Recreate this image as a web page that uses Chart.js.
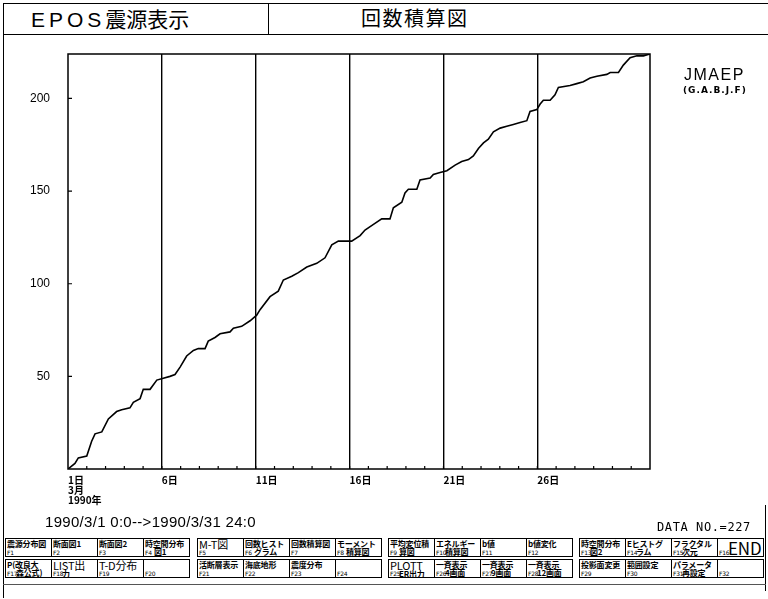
<!DOCTYPE html>
<html lang="ja">
<head>
  <meta charset="UTF-8" />
  <title>EPOS震源表示 - 回数積算図</title>
  <script src="https://cdn.jsdelivr.net/npm/chart.js"></script>
  <style>
    body {
      margin: 0;
      width: 768px;
      height: 599px;
      background: #fff;
      color: #000;
      position: relative;
      overflow: hidden;
      font-family: "Noto Sans CJK JP", "Liberation Sans", sans-serif;
    }
    .abs { position: absolute; }
    .titlebar {
      left: 3px; top: 3px; width: 765px; height: 30px;
      border-top: 1.5px solid #000;
      border-bottom: 1.5px solid #000;
      border-left: 1.5px solid #000;
    }
    .divider { left: 268px; top: 3px; width: 0; height: 31px; border-left: 1.5px solid #000; }
    .title1 { left: 31px; top: 4px; font-size: 21px; line-height: 28px; }
    .title1 .lat { letter-spacing: 4px; font-family: "Liberation Sans", sans-serif; }
    .title2 { left: 361px; top: 4px; font-size: 20px; line-height: 28px; letter-spacing: 1.5px; }
    .frameL { left: 3px; top: 34px; height: 564px; border-left: 1.5px solid #000; }
    .frameR { left: 765px; top: 505px; height: 86px; border-left: 1.5px solid #000; }
    .frameB { left: 3px; top: 584px; width: 763px; border-top: 1px solid #555; }
    #chartBox { left: 0; top: 36px; }
    .jmaep { left: 684px; top: 66px; font-family: "Liberation Sans", sans-serif; font-size: 16px; letter-spacing: 1.5px; line-height: 18px; }
    .gabjf { left: 683px; top: 85px; font-family: "DejaVu Sans", sans-serif; font-size: 9px; font-weight: bold; letter-spacing: 1px; }
    .range { left: 45px; top: 513px; font-family: "Liberation Sans", sans-serif; font-size: 15px; letter-spacing: 0.3px; }
    .datano { left: 657px; top: 520px; font-family: "DejaVu Sans Mono", monospace; font-size: 12px; letter-spacing: 0.6px; }
    .btn {
      position: absolute;
      height: 19px;
      border: 1.5px solid #000;
      box-sizing: border-box;
      font-size: 8px;
      font-weight: bold;
      line-height: 8.5px;
      padding: 0.5px 0 0 1px;
      white-space: nowrap;
      overflow: hidden;
      letter-spacing: -0.2px;
    }
    .btn .l2 { display: block; margin-left: 9px; font-size: 8px; font-weight: bold; line-height: 8.5px; }
    .btn .fn { position: absolute; left: 1px; bottom: 0; font-size: 6px; line-height: 6px; font-family: "DejaVu Sans", sans-serif; font-weight: normal; }
    .btn.big { font-size: 11px; line-height: 9.5px; font-weight: normal; }
    .btn.end { font-size: 17px; line-height: 16px; font-weight: normal; padding-left: 10px; }
  </style>
</head>
<body>
  <div class="abs titlebar"></div>
  <div class="abs divider"></div>
  <div class="abs title1"><span class="lat">EPOS</span>震源表示</div>
  <div class="abs title2">回数積算図</div>
  <div class="abs frameL"></div>
  <div class="abs frameR"></div>
  <div class="abs frameB"></div>

  <div id="chartBox" class="abs"><canvas id="countChart" width="768" height="478"></canvas></div>

  <div class="abs jmaep">JMAEP</div>
  <div class="abs gabjf">(G.A.B.J.F)</div>
  <div class="abs range">1990/3/1 0:0-->1990/3/31 24:0</div>
  <div class="abs datano">DATA NO.=227</div>

  <div id="buttons"></div>

  <script>
    // cumulative number of events (day of March 1990, count)
    const eventDays = [1.00, 1.37, 1.55, 2.00, 2.26, 2.44, 2.80, 3.15, 3.59, 3.86,
      4.30, 4.48, 4.84, 5.01, 5.37, 5.73, 6.08, 6.43, 6.70, 6.97,
      7.32, 7.68, 7.94, 8.30, 8.47, 8.83, 9.10, 9.63, 9.81, 10.25,
      10.70, 11.05, 11.23, 11.76, 12.20, 12.47, 12.92, 13.27, 13.72, 14.25,
      14.69, 15.05, 15.40, 15.93, 16.11, 16.56, 16.82, 17.27, 17.71, 18.15,
      18.33, 18.78, 18.95, 19.13, 19.58, 19.75, 20.29, 20.46, 20.82, 21.18,
      21.62, 21.97, 22.33, 22.59, 22.86, 23.13, 23.39, 23.66, 24.02, 24.37,
      24.72, 25.08, 25.44, 25.61, 25.97, 26.15, 26.32, 26.68, 26.94, 27.12,
      27.74, 28.10, 28.45, 28.81, 29.17, 29.70, 29.88, 30.32, 30.58, 30.94,
      31.30, 31.65, 32.00];
    const eventCounts = [0, 3, 6, 7, 15, 19, 20, 27, 31, 32,
      33, 36, 38, 43, 43, 48, 49, 50, 51, 55,
      61, 64, 65, 65, 69, 71, 73, 74, 76, 77,
      80, 83, 86, 93, 96, 102, 104, 106, 109, 111,
      114, 121, 123, 123, 123, 126, 129, 132, 135, 135,
      141, 144, 149, 151, 151, 156, 157, 159, 160, 161,
      164, 166, 167, 169, 173, 176, 178, 182, 184, 185,
      186, 187, 188, 193, 194, 197, 199, 199, 202, 206,
      207, 208, 209, 211, 212, 213, 214, 214, 218, 222,
      223, 223, 224];

    const dayMin = 1, dayMax = 32;
    const countMax = 224;
    const majorDays = [6, 11, 16, 21, 26];
    const dayLabels = { 1: ['1日', '3月', '1990年'], 6: '6日', 11: '11日', 16: '16日', 21: '21日', 26: '26日' };
    const countTicks = [50, 100, 150, 200];

    // function key panel
    const keyRow1 = [
      ['震源分布図', ''], ['断面図1', ''], ['断面図2', ''], ['時空間分布', '図1'],
      ['M-T図', '', 'big'], ['回数ヒスト', 'グラム'], ['回数積算図', ''], ['モーメント', '積算図'],
      ['平均変位積', '算図'], ['エネルギー', '積算図'], ['b値', ''], ['b値変化', ''],
      ['時空間分布', '図2'], ['Eヒストグ', 'ラム'], ['フラクタル', '次元'], ['END', '', 'end']
    ];
    const keyRow2 = [
      ['P(改良大', '森公式)'], ['LIST出', '力', 'big'], ['T-D分布', '', 'big'], ['', ''],
      ['活断層表示', ''], ['海底地形', ''], ['震度分布', ''], ['', ''],
      ['PLOTT', 'ER出力', 'big'], ['一斉表示', '4画面'], ['一斉表示', '9画面'], ['一斉表示', '12画面'],
      ['投影面変更', ''], ['範囲設定', ''], ['パラメータ', '再設定'], ['', '']
    ];

    const groupLeft = [5, 197, 388, 579];
    const keyW = 46;
    const box = document.getElementById('buttons');
    [keyRow1, keyRow2].forEach((row, r) => {
      row.forEach((k, i) => {
        const g = Math.floor(i / 4), c = i % 4;
        const b = document.createElement('div');
        b.className = 'btn' + (k[2] ? ' ' + k[2] : '');
        b.style.left = (groupLeft[g] + c * keyW) + 'px';
        b.style.top = (r === 0 ? 538 : 559) + 'px';
        b.style.width = (keyW + 1) + 'px';
        b.innerHTML = k[0] + (k[1] ? '<span class="l2">' + k[1] + '</span>' : '') +
          '<span class="fn">F' + (r * 16 + i + 1) + '</span>';
        box.appendChild(b);
      });
    });

    // frame and inward tick marks
    const frameTicks = {
      id: 'frameTicks',
      afterDraw(chart) {
        const { ctx, chartArea: a, scales } = chart;
        ctx.save();
        ctx.strokeStyle = '#000';
        ctx.lineWidth = 1.5;
        ctx.strokeRect(a.left, a.top, a.right - a.left, a.bottom - a.top);
        ctx.lineWidth = 1.2;
        ctx.beginPath();
        for (let d = dayMin + 1; d < dayMax; d++) {
          const x = scales.x.getPixelForValue(d);
          ctx.moveTo(x, a.bottom);
          ctx.lineTo(x, a.bottom - 3);
        }
        countTicks.forEach(v => {
          const y = scales.y.getPixelForValue(v);
          ctx.moveTo(a.left, y);
          ctx.lineTo(a.left + 4, y);
        });
        ctx.stroke();
        ctx.restore();
      }
    };

    new Chart(document.getElementById('countChart'), {
      type: 'line',
      data: {
        datasets: [{
          data: eventDays.map((d, i) => ({ x: d, y: eventCounts[i] })),
          borderColor: '#000',
          borderWidth: 1.6,
          pointRadius: 0,
          tension: 0,
          fill: false
        }]
      },
      options: {
        responsive: false,
        animation: false,
        layout: { padding: { left: 0, right: 118, top: 18, bottom: 0 } },
        plugins: { legend: { display: false }, tooltip: { enabled: false } },
        scales: {
          x: {
            type: 'linear',
            min: dayMin,
            max: dayMax,
            afterFit: s => { s.height = 45; },
            grid: {
              drawTicks: false,
              lineWidth: 1.4,
              color: c => majorDays.includes(c.tick.value) ? '#000' : 'rgba(0,0,0,0)'
            },
            border: { display: false },
            ticks: {
              stepSize: 1,
              autoSkip: false,
              maxRotation: 0,
              align: 'start',
              padding: 6,
              color: '#000',
              font: { family: 'Noto Sans CJK JP', size: 10, weight: 'bold', lineHeight: 1.0 },
              callback: v => dayLabels[v] || ''
            }
          },
          y: {
            min: 0,
            max: countMax,
            afterFit: s => { s.width = 68; },
            grid: { display: false },
            border: { display: false },
            ticks: {
              stepSize: 50,
              padding: 10,
              color: '#000',
              font: { family: 'Liberation Sans', size: 12 },
              callback: v => countTicks.includes(v) ? String(v) : ''
            }
          }
        }
      },
      plugins: [frameTicks]
    });
  </script>
</body>
</html>
